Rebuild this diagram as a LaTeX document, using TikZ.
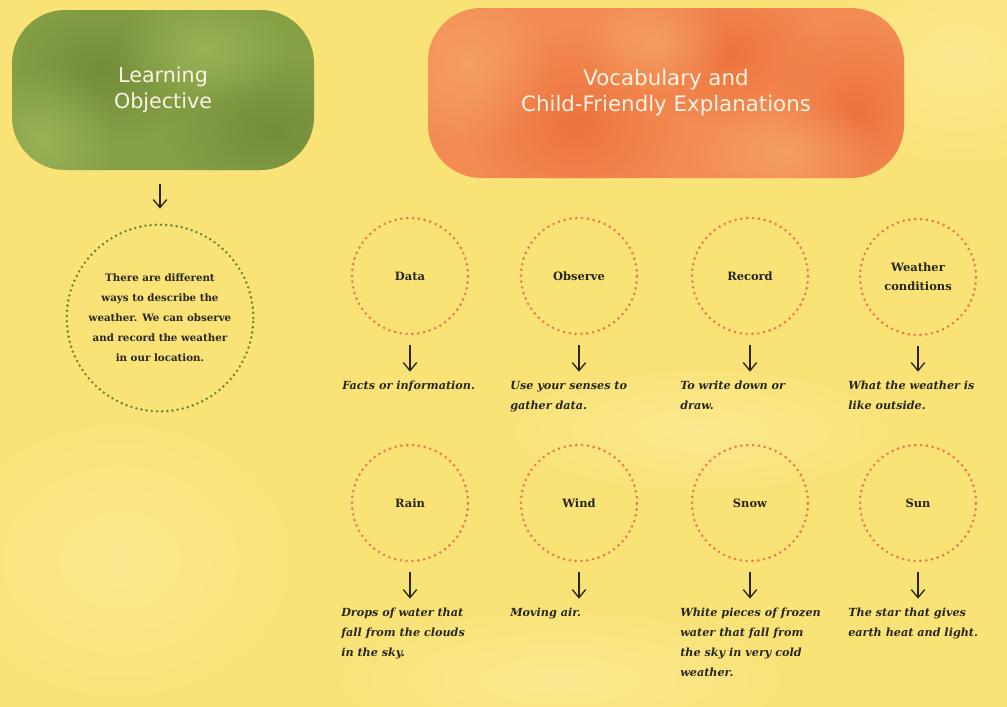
\documentclass[tikz,border=0pt]{standalone}
\usepackage{fontspec}
\setmainfont{DejaVu Serif}
\newfontfamily\headfont{DejaVu Sans}
\usetikzlibrary{arrows.meta,fadings}
\tikzfading[name=softfade, inner color=transparent!0, outer color=transparent!100]
\definecolor{bgyellow}{RGB}{249,226,118}
\definecolor{bglight}{RGB}{253,238,160}
\definecolor{blobgreen}{RGB}{134,160,70}
\definecolor{blobgreendark}{RGB}{108,136,52}
\definecolor{blobgreenlight}{RGB}{160,184,92}
\definecolor{bloborange}{RGB}{243,140,82}
\definecolor{bloborangedark}{RGB}{236,106,56}
\definecolor{bloborangelight}{RGB}{246,166,104}
\definecolor{dotorange}{RGB}{238,118,80}
\definecolor{dotgreen}{RGB}{104,136,56}
\definecolor{headtext}{RGB}{250,244,228}
\definecolor{inktext}{RGB}{40,38,30}
\tikzset{
  blobshape/.style={rounded corners=40pt},
  blob/.style={inner sep=0pt, align=center, text=headtext},
  vocab/.style={circle, minimum size=87pt, inner sep=0pt, align=center,
    draw=dotorange, line width=2.2pt, line cap=round,
    dash pattern=on 0pt off 4.4pt, text=inktext,
    font=\bfseries\fontsize{8.6}{14}\selectfont},
  objcircle/.style={circle, minimum size=140pt, inner sep=0pt, align=center,
    draw=dotgreen, line width=2.1pt, line cap=round,
    dash pattern=on 0pt off 3.9pt, text=inktext,
    font=\bfseries\fontsize{7.7}{15}\selectfont},
  defn/.style={anchor=north west, inner sep=0pt, align=left, text=inktext,
    font=\bfseries\itshape\fontsize{8.4}{15}\selectfont},
  arr/.style={draw=inktext, line width=1pt,
    -{Straight Barb[length=6pt,width=10pt,line width=1pt]}},
  patch/.style={fill=#1, opacity=0.75, path fading=softfade},
  bgpatch/.style={fill=bglight, opacity=0.6, path fading=softfade},
}
\begin{document}
\begin{tikzpicture}[x=0.75pt,y=-0.75pt]
\fill[bgyellow] (0,0) rectangle (1007,707);
\useasboundingbox (0,0) rectangle (1007,707);
% soft background texture
\fill[bgpatch] (960,60) ellipse [x radius=160, y radius=120];
\fill[bgpatch] (120,560) ellipse [x radius=200, y radius=160];
\fill[bgpatch] (560,680) ellipse [x radius=260, y radius=80];
\fill[bgpatch] (700,430) ellipse [x radius=220, y radius=70];

% green blob (watercolour)
\fill[blobgreen, blobshape] (12,10) rectangle (314,170);
\begin{scope}
  \clip[blobshape] (12,10) rectangle (314,170);
  \fill[patch=blobgreendark] (103,70) ellipse [x radius=100, y radius=75];
  \fill[patch=blobgreendark] (273,130) ellipse [x radius=110, y radius=75];
  \fill[patch=blobgreenlight] (203,50) ellipse [x radius=90, y radius=55];
  \fill[patch=blobgreenlight] (43,140) ellipse [x radius=75, y radius=75];
\end{scope}
% orange blob (watercolour)
\fill[bloborange, blobshape] (428,8) rectangle (904,178);
\begin{scope}
  \clip[blobshape] (428,8) rectangle (904,178);
  \fill[patch=bloborangedark] (576,123) ellipse [x radius=110, y radius=95];
  \fill[patch=bloborangedark] (726,53) ellipse [x radius=100, y radius=75];
  \fill[patch=bloborangedark] (856,113) ellipse [x radius=85, y radius=95];
  \fill[patch=bloborangelight] (466,63) ellipse [x radius=85, y radius=85];
  \fill[patch=bloborangelight] (786,153) ellipse [x radius=100, y radius=55];
  \fill[patch=bloborangelight] (656,43) ellipse [x radius=75, y radius=55];
\end{scope}

% header texts
\node[blob, minimum width=226.5pt, minimum height=120pt,
  font=\headfont\fontsize{15.5}{19.5}\selectfont] (lo) at (163,90) {Learning\\Objective};
\node[blob, minimum width=357pt, minimum height=129pt,
  font=\headfont\fontsize{16}{19.5}\selectfont] (voc) at (666,93) {Vocabulary and\\Child-Friendly Explanations};

% learning objective circle
\node[objcircle] (obj) at (160,318) {There are different\\ways to describe the\\weather. We can observe\\and record the weather\\in our location.};
\draw[arr, shorten <=10pt, shorten >=11pt] (lo.south -| obj.north) -- (obj.north);

% vocabulary circles
\node[vocab] (data) at (410,276) {Data};
\node[vocab] (observe) at (579,276) {Observe};
\node[vocab] (record) at (750,276) {Record};
\node[vocab] (weather) at (918,277) {Weather\\conditions};
\node[vocab] (rain) at (410,503) {Rain};
\node[vocab] (wind) at (579,503) {Wind};
\node[vocab] (snow) at (750,503) {Snow};
\node[vocab] (sun) at (918,503) {Sun};

% definitions
\node[defn] (dataD) at (342,381) {Facts or information.};
\node[defn] (observeD) at (510,381) {Use your senses to\\gather data.};
\node[defn] (recordD) at (680,381) {To write down or\\draw.};
\node[defn] (weatherD) at (848,381) {What the weather is\\like outside.};
\node[defn] (rainD) at (341,608) {Drops of water that\\fall from the clouds\\in the sky.};
\node[defn] (windD) at (510,608) {Moving air.};
\node[defn] (snowD) at (680,608) {White pieces of frozen\\water that fall from\\the sky in very cold\\weather.};
\node[defn] (sunD) at (848,608) {The star that gives\\earth heat and light.};

% arrows
\foreach \w in {data,observe,record,weather,rain,wind,snow,sun}{
  \draw[arr, shorten <=7.5pt, shorten >=7pt] (\w.south) -- (\w.south |- \w D.north);
}
\end{tikzpicture}
\end{document}
